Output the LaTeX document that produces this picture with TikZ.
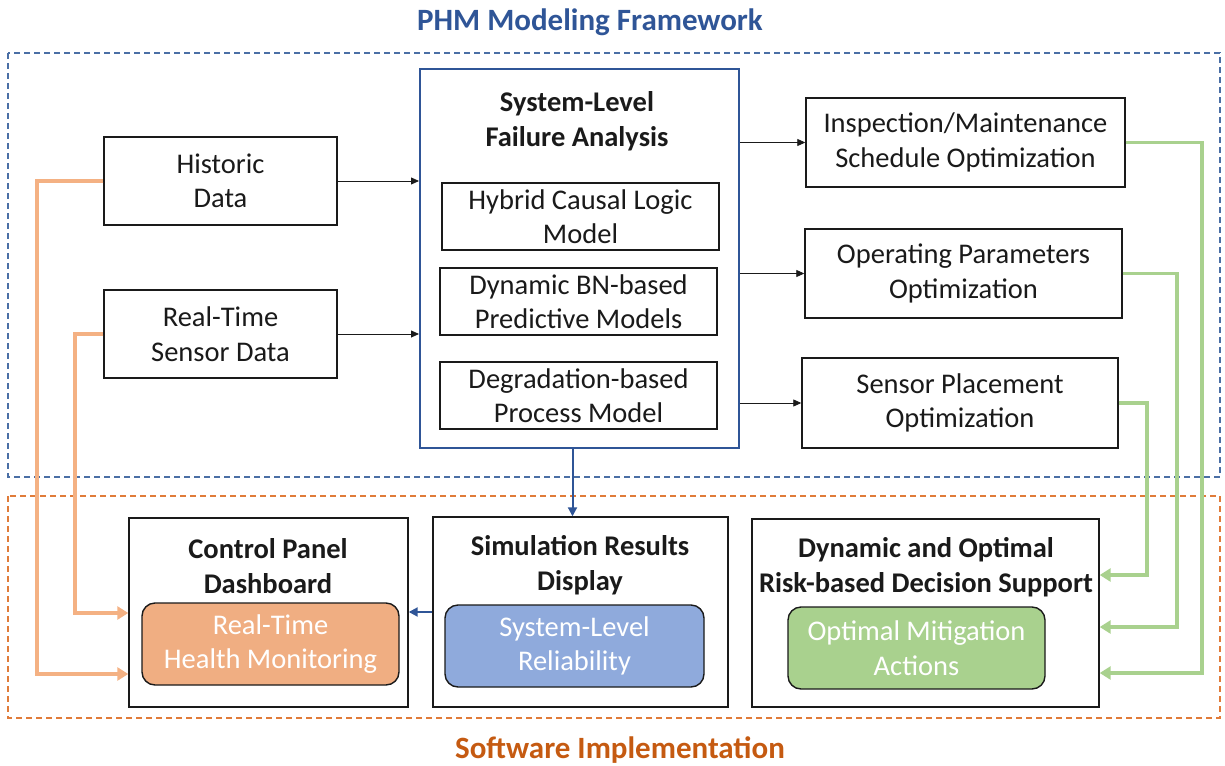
\documentclass[tikz,border=0pt]{standalone}
\usepackage{fontspec}
\setmainfont{Carlito}
\usetikzlibrary{arrows.meta}
\definecolor{phmblue}{HTML}{2F5597}
\definecolor{dashblue}{HTML}{4A6FA5}
\definecolor{swor}{HTML}{C55A11}
\definecolor{dashor}{HTML}{E07B39}
\definecolor{orline}{HTML}{F4B183}
\definecolor{orfill}{HTML}{F0AE82}
\definecolor{blfill}{HTML}{8FAADC}
\definecolor{grfill}{HTML}{A9D18E}
\definecolor{grline}{HTML}{A9D18E}
\definecolor{ink}{HTML}{1A1A1A}
\begin{document}
\begin{tikzpicture}[x=1pt,y=-1pt,
  every node/.style={font=\fontsize{28.5}{34.5}\selectfont, align=center, inner sep=0pt, text=ink},
  box/.style={draw=ink, line width=1.4pt, fill=white},
  bigbox/.style={draw=phmblue, line width=2pt, fill=white},
  pill/.style={draw=ink, line width=1.4pt, rounded corners=13pt, text=white},
  boxtitle/.style={font=\fontsize{28.5}{34.5}\selectfont\bfseries},
  frame/.style={line width=1.2pt, dash pattern=on 6pt off 4pt},
  thin/.style={draw=ink, line width=0.8pt, -{Triangle[length=8pt,width=7pt]}},
  bluearrow/.style={draw=phmblue, line width=2pt, -{Triangle[length=9pt,width=9pt]}},
  orarrow/.style={draw=orline, line width=3.5pt, -{Triangle[length=11pt,width=13pt]}},
  grarrow/.style={draw=grline, line width=3.5pt, -{Triangle[length=11pt,width=13pt]}},
  heading/.style={font=\fontsize{31}{36}\selectfont\bfseries}
]
\useasboundingbox (0,0) rectangle (1225,765);

% section frames and headings
\draw[frame, draw=dashblue] (8,53) rectangle (1220,477);
\draw[frame, draw=dashor] (8,496) rectangle (1220,718);
\node[heading, text=phmblue] (fw) at (590,22) {PHM Modeling Framework};
\node[heading, text=swor] (sw) at (620,750) {Software Implementation};

% data sources
\node[box, minimum width=233pt, minimum height=88pt] (hist) at (220.5,181) {Historic\\Data};
\node[box, minimum width=233pt, minimum height=88pt] (rt) at (220.5,334) {Real-Time\\Sensor Data};

% system-level failure analysis
\node[bigbox, minimum width=319pt, minimum height=379pt] (big) at (579.5,258.5) {};
\node[boxtitle] (bigt) at (577,121) {System-Level\\Failure Analysis};
\node[box, minimum width=277pt, minimum height=67pt] (hcl) at (580.5,216.5) {Hybrid Causal Logic\\Model};
\node[box, minimum width=277pt, minimum height=67pt] (dbn) at (578.5,301.5) {Dynamic BN-based\\Predictive Models};
\node[box, minimum width=277pt, minimum height=67pt] (deg) at (578.5,395.5) {Degradation-based\\Process Model};

% optimization outputs
\node[box, minimum width=319pt, minimum height=89pt] (insp) at (965.5,142.5) {Inspection/Maintenance\\Schedule Optimization};
\node[box, minimum width=317pt, minimum height=89pt] (op) at (963.5,273.5) {Operating Parameters\\Optimization};
\node[box, minimum width=316pt, minimum height=90pt] (sens) at (960,403) {Sensor Placement\\Optimization};

% software implementation panels
\node[box, minimum width=279pt, minimum height=189pt] (ctrl) at (268.5,612.5) {};
\node[boxtitle] (ctrlt) at (268,566) {Control Panel\\Dashboard};
\node[pill, fill=orfill, minimum width=257pt, minimum height=82pt] (rthm) at (270.5,644) {Real-Time\\Health Monitoring};

\node[box, minimum width=295pt, minimum height=190pt] (sim) at (580.5,612) {};
\node[boxtitle] (simt) at (580,565) {Simulation Results\\Display};
\node[pill, fill=blfill, minimum width=259pt, minimum height=82pt] (rel) at (574.5,646) {System-Level\\Reliability};

\node[box, minimum width=347pt, minimum height=188pt] (dec) at (925.5,613) {};
\node[boxtitle] (dect) at (926,567) {Dynamic and Optimal\\Risk-based Decision Support};
\node[pill, fill=grfill, minimum width=257pt, minimum height=82pt] (mit) at (916.5,648) {Optimal Mitigation\\Actions};

% routing columns for the feedback lines
\coordinate (ox1) at (37,0);
\coordinate (ox2) at (75,0);
\coordinate (gx1) at (1202,0);
\coordinate (gx2) at (1177,0);
\coordinate (gx3) at (1147,0);

% data flow into the analysis
\draw[thin] (hist.east) -- (hist.east -| big.west);
\draw[thin] (rt.east) -- (rt.east -| big.west);
\draw[thin] (insp.west -| big.east) -- (insp.west);
\draw[thin] (op.west -| big.east) -- (op.west);
\draw[thin] (sens.west -| big.east) -- (sens.west);

% analysis to software
\draw[bluearrow] ([xshift=-7pt]big.south) -- ([xshift=-7pt]big.south |- sim.north);
\draw[bluearrow] (sim.west) -- (sim.west -| ctrl.east);

% data sources feeding the dashboard
\draw[orarrow] (hist.west) -- (hist.west -| ox1) |- ([yshift=-61.5pt]ctrl.west);
\draw[orarrow] (rt.west) -- (rt.west -| ox2) |- ([yshift=-0.5pt]ctrl.west);

% optimization results feeding decision support
\draw[grarrow] (insp.east) -- (insp.east -| gx1) |- ([yshift=-60pt]dec.east);
\draw[grarrow] (op.east) -- (op.east -| gx2) |- ([yshift=-14pt]dec.east);
\draw[grarrow] (sens.east) -- (sens.east -| gx3) |- ([yshift=38pt]dec.east);
\end{tikzpicture}
\end{document}
